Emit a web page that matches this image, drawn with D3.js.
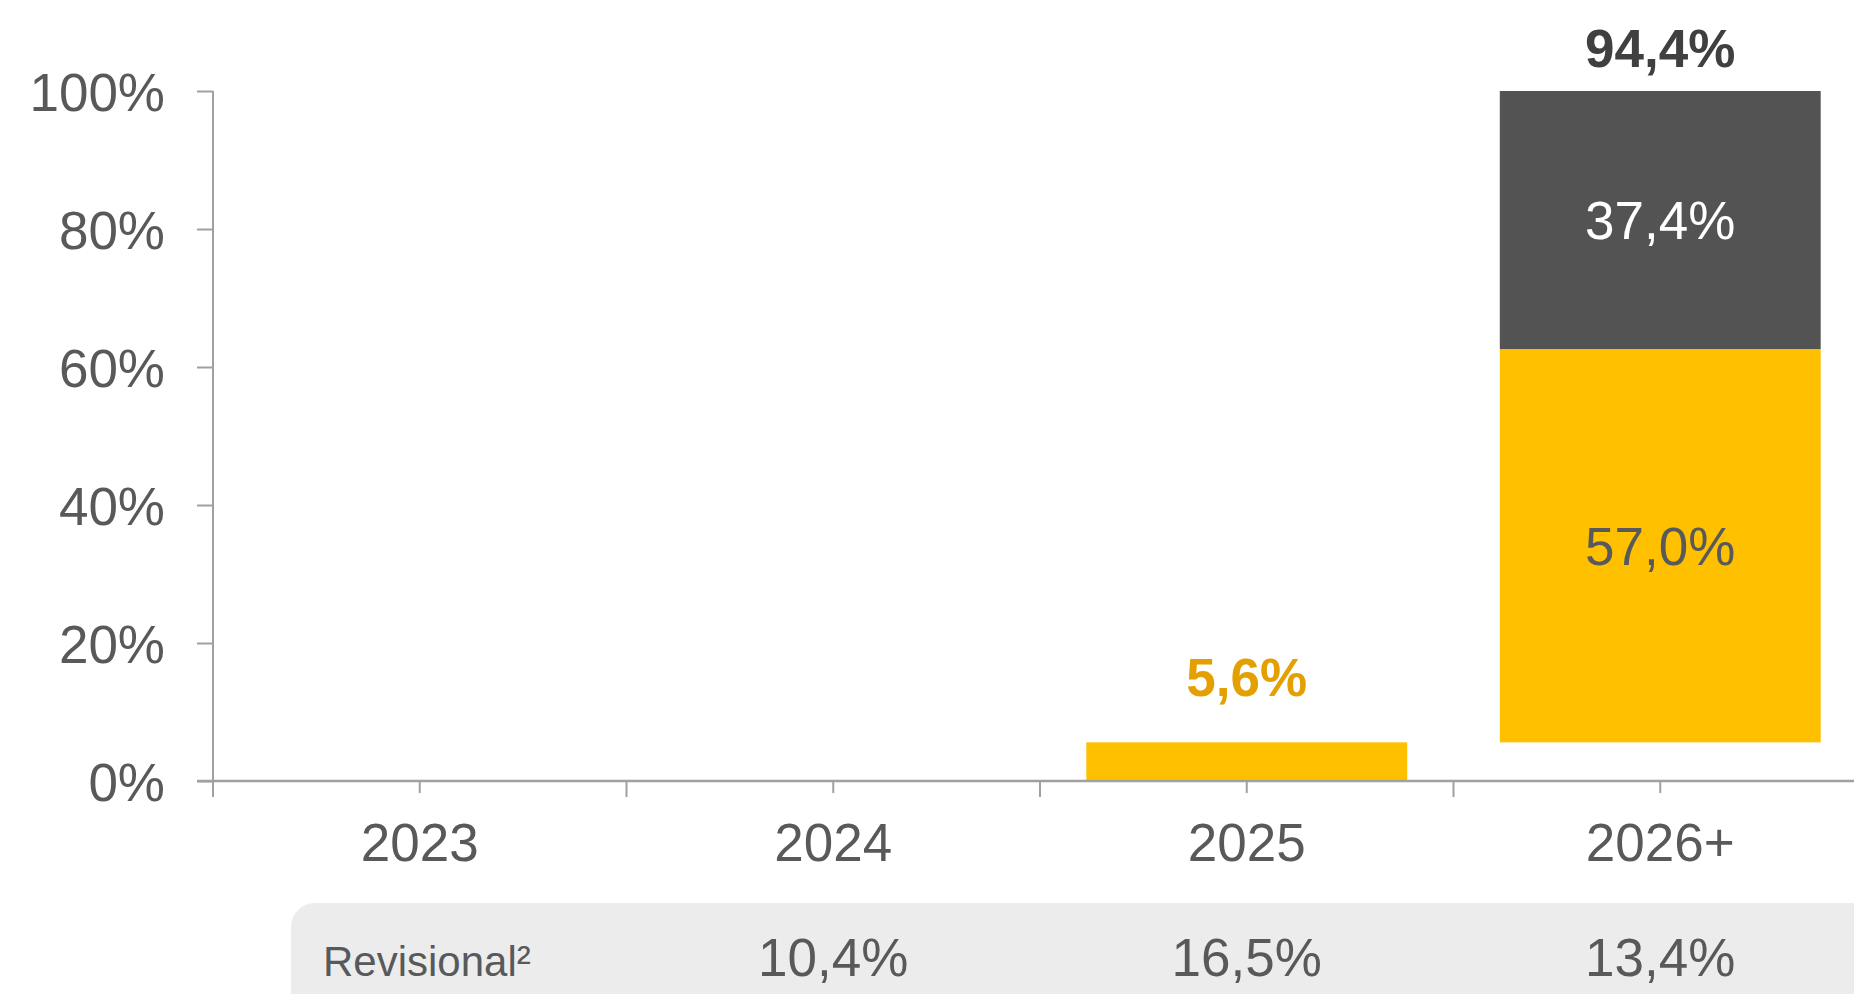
<!DOCTYPE html>
<html>
<head>
<meta charset="utf-8">
<script src="https://cdn.jsdelivr.net/npm/d3@7"></script>
<style>
  html, body { margin: 0; padding: 0; background: #fff; }
  svg { display: block; font-family: "Liberation Sans", Arial, sans-serif; }
</style>
</head>
<body>
<svg id="chart" width="1854" height="994"></svg>
<script>
// Data
const categories = ['2023', '2024', '2025', '2026+'];
const yellowBase = [0, 0, 0, 5.6];      // where the yellow segment starts
const yellowValues = [0, 0, 5.6, 57.0];
const greyValues = [0, 0, 0, 37.4];
const totalLabels = [null, null, null, '94,4%'];
const yTicks = [0, 20, 40, 60, 80, 100];
const revisionalLabel = 'Revisional²';
const revisionalValues = [null, '10,4%', '16,5%', '13,4%'];

const YELLOW = '#FFC000';
const GREY = '#535353';
const TEXT = '#58595b';
const AXIS = '#a0a0a0';

const svg = d3.select('#chart');
const fmt = v => String(v.toFixed(1)).replace('.', ',') + '%';

const y = d3.scaleLinear().domain([0, 100]).range([781, 91]);
const x = d3.scaleBand().domain(categories).range([213, 1867]);
const barW = x.bandwidth() * 0.776;
const cx = c => x(c) + x.bandwidth() / 2;

// Revisional row background
svg.append('rect')
  .attr('x', 291).attr('y', 903)
  .attr('width', 1700).attr('height', 200)
  .attr('rx', 24)
  .attr('fill', '#ececec');

// Bars
const rows = categories.map((c, i) => ({
  c, base: yellowBase[i], yv: yellowValues[i], gv: greyValues[i], total: totalLabels[i]
}));

svg.append('g').selectAll('rect')
  .data(rows.filter(d => d.yv > 0))
  .join('rect')
  .attr('x', d => cx(d.c) - barW / 2)
  .attr('width', barW)
  .attr('y', d => y(d.base + d.yv))
  .attr('height', d => y(d.base) - y(d.base + d.yv))
  .attr('fill', YELLOW);

svg.append('g').selectAll('rect')
  .data(rows.filter(d => d.gv > 0))
  .join('rect')
  .attr('x', d => cx(d.c) - barW / 2)
  .attr('width', barW)
  .attr('y', d => y(d.base + d.yv + d.gv))
  .attr('height', d => y(d.base + d.yv) - y(d.base + d.yv + d.gv))
  .attr('fill', GREY);

// Axes
const axisG = svg.append('g');
// y axis line
axisG.append('line')
  .attr('x1', 213).attr('x2', 213)
  .attr('y1', y(100)).attr('y2', y(0) + 16)
  .attr('stroke', AXIS).attr('stroke-width', 2);
// x axis line
axisG.append('line')
  .attr('x1', 197).attr('x2', 1854)
  .attr('y1', y(0)).attr('y2', y(0))
  .attr('stroke', AXIS).attr('stroke-width', 2.5);

const yAxis = d3.axisLeft(y)
  .tickValues(yTicks)
  .tickSize(16)
  .tickPadding(32)
  .tickFormat(d => d + '%');
const yg = svg.append('g').attr('transform', 'translate(213,0)').call(yAxis);
yg.select('.domain').remove();
yg.selectAll('.tick line').attr('stroke', AXIS).attr('stroke-width', 2);
yg.selectAll('.tick text')
  .attr('fill', TEXT).attr('font-size', 53).attr('font-family', null)
  .attr('dy', '0.36em');

// category boundary ticks (long) and centre ticks (short)
axisG.selectAll('line.bound')
  .data(categories)
  .join('line')
  .attr('class', 'bound')
  .attr('x1', d => x(d)).attr('x2', d => x(d))
  .attr('y1', y(0)).attr('y2', y(0) + 16)
  .attr('stroke', AXIS).attr('stroke-width', 2);

const xAxis = d3.axisBottom(x).tickSize(12).tickPadding(30);
const xg = svg.append('g').attr('transform', `translate(0,${y(0)})`).call(xAxis);
xg.select('.domain').remove();
xg.selectAll('.tick line').attr('stroke', AXIS).attr('stroke-width', 2);
xg.selectAll('.tick text')
  .attr('fill', TEXT).attr('font-size', 53).attr('font-family', null)
  .attr('dy', '0.71em');

// Value labels
const labels = svg.append('g').attr('text-anchor', 'middle').attr('font-size', 53);

rows.forEach(d => {
  if (d.gv > 0) {
    // stacked bar: labels inside the segments
    labels.append('text')
      .attr('x', cx(d.c))
      .attr('y', y(d.base + d.yv / 2)).attr('dy', '0.36em')
      .attr('fill', TEXT)
      .text(fmt(d.yv));
    labels.append('text')
      .attr('x', cx(d.c))
      .attr('y', y(d.base + d.yv + d.gv / 2)).attr('dy', '0.36em')
      .attr('fill', '#ffffff')
      .text(fmt(d.gv));
  } else if (d.yv > 0) {
    // thin bar: label above it
    labels.append('text')
      .attr('x', cx(d.c))
      .attr('y', y(d.base + d.yv) - 46)
      .attr('fill', '#E3A000')
      .attr('font-weight', 'bold')
      .text(fmt(d.yv));
  }
  if (d.total) {
    labels.append('text')
      .attr('x', cx(d.c))
      .attr('y', y(d.base + d.yv + d.gv) - 24)
      .attr('fill', '#404040')
      .attr('font-weight', 'bold')
      .text(d.total);
  }
});

// Revisional row
svg.append('text')
  .attr('x', 323).attr('y', 976)
  .attr('fill', TEXT).attr('font-size', 42)
  .text(revisionalLabel);

svg.append('g').selectAll('text')
  .data(categories.map((c, i) => ({ c, v: revisionalValues[i] })).filter(d => d.v))
  .join('text')
  .attr('x', d => cx(d.c)).attr('y', 976)
  .attr('text-anchor', 'middle')
  .attr('fill', TEXT).attr('font-size', 53)
  .text(d => d.v);
</script>
</body>
</html>
